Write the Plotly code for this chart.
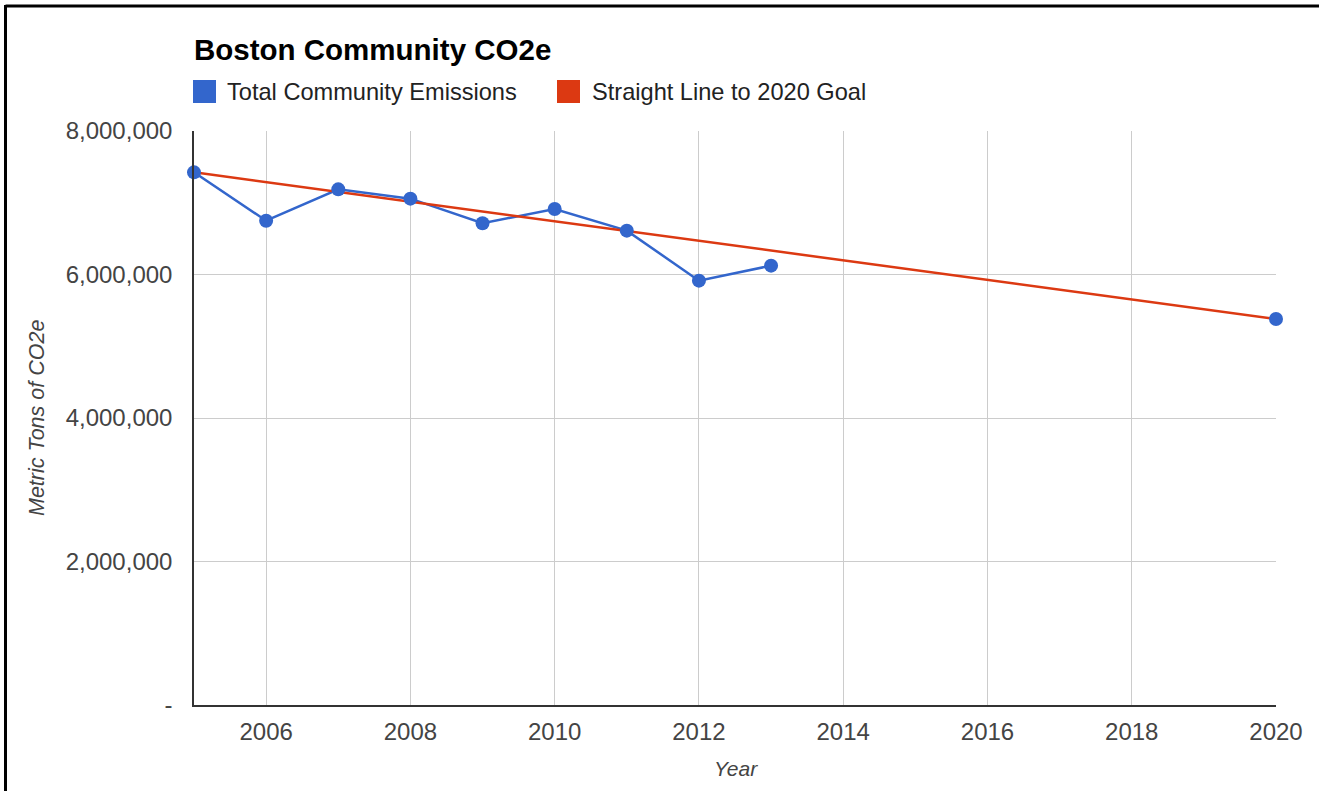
import plotly.graph_objects as go

# Boston community greenhouse gas emissions (metric tons CO2e)
years = list(range(2005, 2021))
emissions = [7424000, 6750000, 7187000, 7057000, 6714000, 6913000, 6611000,
             5914000, 6123000, None, None, None, None, None, None, 5380000]

goal_years = [2005, 2020]
goal_values = [7424000, 5380000]

x_tick_vals = [2006, 2008, 2010, 2012, 2014, 2016, 2018, 2020]
x_tick_text = [str(v) for v in x_tick_vals]
y_tick_vals = [0, 2000000, 4000000, 6000000, 8000000]
y_tick_text = ["-", "2,000,000", "4,000,000", "6,000,000", "8,000,000"]

BLUE = "#3366cc"
RED = "#dc3912"
FONT = "Arial, Liberation Sans, sans-serif"

W, H = 1319, 791
L, R, T, B = 194, 43, 131, 86
PW, PH = W - L - R, H - T - B


def px(xp):
    return (xp - L) / PW


def py(yp):
    return (H - B - yp) / PH


fig = go.Figure()

fig.add_trace(go.Scatter(x=years, y=emissions, mode="lines",
                         line=dict(color=BLUE, width=2.5), connectgaps=False,
                         showlegend=False, hoverinfo="skip"))
fig.add_trace(go.Scatter(x=goal_years, y=goal_values, mode="lines",
                         line=dict(color=RED, width=2.5),
                         showlegend=False, name="Straight Line to 2020 Goal"))
fig.add_trace(go.Scatter(x=years, y=emissions, mode="markers",
                         marker=dict(color=BLUE, size=14), cliponaxis=False,
                         showlegend=False, name="Total Community Emissions"))

shapes = [
    # page frame
    dict(type="line", xref="paper", yref="paper", x0=px(5.5), x1=px(W + 5),
         y0=py(6), y1=py(6), line=dict(color="black", width=3)),
    dict(type="line", xref="paper", yref="paper", x0=px(5.5), x1=px(5.5),
         y0=py(5), y1=py(H + 5), line=dict(color="black", width=3)),
    # legend swatches
    dict(type="rect", xref="paper", yref="paper", x0=px(193), x1=px(216),
         y0=py(103), y1=py(80), fillcolor=BLUE, line=dict(width=0)),
    dict(type="rect", xref="paper", yref="paper", x0=px(557), x1=px(580),
         y0=py(103), y1=py(80), fillcolor=RED, line=dict(width=0)),
]

annotations = [
    dict(text="<b>Boston Community CO2e</b>", xref="paper", yref="paper",
         x=px(192), y=py(49), xanchor="left", yanchor="middle", showarrow=False,
         font=dict(family=FONT, size=29.5, color="#000000")),
    dict(text="Total Community Emissions", xref="paper", yref="paper",
         x=px(225), y=py(92), xanchor="left", yanchor="middle", showarrow=False,
         font=dict(family=FONT, size=23.6, color="#222222")),
    dict(text="Straight Line to 2020 Goal", xref="paper", yref="paper",
         x=px(590), y=py(92), xanchor="left", yanchor="middle", showarrow=False,
         font=dict(family=FONT, size=23.6, color="#222222")),
    dict(text="<i>Year</i>", xref="paper", yref="paper",
         x=px(736), y=py(768), xanchor="center", yanchor="middle", showarrow=False,
         font=dict(family=FONT, size=21, color="#444444")),
    dict(text="<i>Metric Tons of CO2e</i>", xref="paper", yref="paper",
         x=px(37), y=py(418), xanchor="center", yanchor="middle", showarrow=False,
         textangle=-90, font=dict(family=FONT, size=21.5, color="#444444")),
]

fig.update_layout(
    width=W, height=H,
    margin=dict(l=L, r=R, t=T, b=B, pad=0),
    paper_bgcolor="white", plot_bgcolor="white",
    font=dict(family=FONT, color="#444444"),
    shapes=shapes, annotations=annotations,
    xaxis=dict(range=[2005, 2020], tickvals=x_tick_vals, ticktext=x_tick_text,
               showgrid=True, gridcolor="#cccccc", gridwidth=1.2,
               showline=True, linecolor="#333333", linewidth=1.5,
               zeroline=False, ticks="", ticklabelstandoff=4,
               tickfont=dict(family=FONT, size=24, color="#444444")),
    yaxis=dict(range=[0, 8000000], tickvals=y_tick_vals, ticktext=y_tick_text,
               showgrid=True, gridcolor="#cccccc", gridwidth=1.2,
               showline=True, linecolor="#333333", linewidth=1.5,
               zeroline=False, ticks="", ticklabelstandoff=15,
               tickfont=dict(family=FONT, size=24, color="#444444")),
)

fig.write_html("out.html")
